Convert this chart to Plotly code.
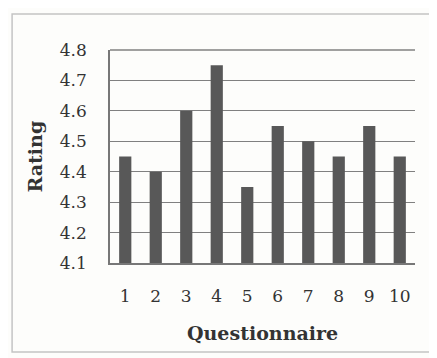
import plotly.graph_objects as go

categories = ["1", "2", "3", "4", "5", "6", "7", "8", "9", "10"]
ratings = [4.45, 4.40, 4.60, 4.75, 4.35, 4.55, 4.50, 4.45, 4.55, 4.45]
y_ticks = [4.1, 4.2, 4.3, 4.4, 4.5, 4.6, 4.7, 4.8]
y_tick_labels = ["4.1", "4.2", "4.3", "4.4", "4.5", "4.6", "4.7", "4.8"]
x_title = "Questionnaire"
y_title = "Rating"

FONT = "DejaVu Serif"
TXT = "#333333"

fig = go.Figure()
fig.add_trace(go.Bar(
    x=categories, y=ratings,
    marker=dict(color="#585858", line=dict(width=0)),
    width=0.4,
))

# page body has an 8px default margin; figure sized to fill the rest
fig.update_layout(
    width=429, height=350,
    margin=dict(l=102, r=22, t=42, b=95),
    paper_bgcolor="#fdfdfb",
    plot_bgcolor="#fdfdfb",
    showlegend=False,
    font=dict(family=FONT, size=17, color=TXT),
    xaxis=dict(
        type="category",
        range=[-0.5, 9.5],
        showgrid=False,
        showline=True, linecolor="#777777", linewidth=1.5,
        ticks="", ticklabelstandoff=17,
        tickfont=dict(family=FONT, size=17, color=TXT),
        fixedrange=True,
    ),
    yaxis=dict(
        range=[4.1, 4.8],
        tickvals=y_ticks, ticktext=y_tick_labels,
        showgrid=True, gridcolor="#808080", gridwidth=1.3,
        showline=True, linecolor="#777777", linewidth=1.5,
        ticks="", ticklabelstandoff=18,
        tickfont=dict(family=FONT, size=17, color=TXT),
        zeroline=False,
    ),
    shapes=[
        dict(type="rect", xref="paper", yref="paper",
             x0=-0.321, x1=1.059, y0=-0.418, y1=1.169,
             line=dict(color="#c4c4c4", width=1.5), fillcolor="rgba(0,0,0,0)",
             layer="below"),
        dict(type="line", xref="paper", yref="paper",
             x0=0, x1=1, y0=1, y1=1,
             line=dict(color="#808080", width=1.3)),
    ],
    annotations=[
        dict(text=f"<b>{x_title}</b>", xref="paper", yref="paper",
             x=0.5, y=-0.328, xanchor="center", yanchor="middle",
             showarrow=False, font=dict(family=FONT, size=19, color=TXT)),
        dict(text=f"<b>{y_title}</b>", xref="paper", yref="paper",
             x=-0.246, y=0.5, xanchor="center", yanchor="middle",
             textangle=-90,
             showarrow=False, font=dict(family=FONT, size=19, color=TXT)),
    ],
)

fig.write_html("out.html")
